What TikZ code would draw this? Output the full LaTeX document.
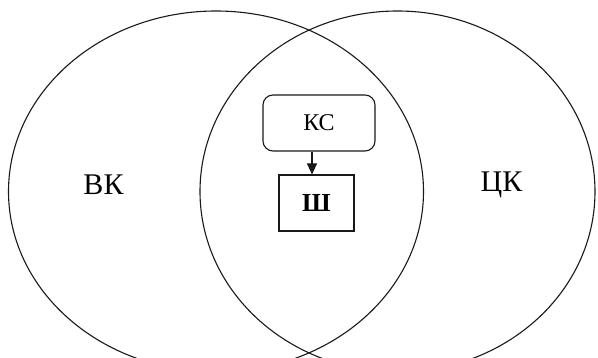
\documentclass[tikz,border=0pt]{standalone}
\usepackage{fontspec}
\setmainfont{Liberation Serif}
\usetikzlibrary{arrows.meta}
\begin{document}
\begin{tikzpicture}[x=1pt,y=-1pt,
  venn/.style={draw=black!90,line width=1.1pt},
  boxstyle/.style={draw=black!90,line width=1.1pt,minimum width=#1,minimum height=56pt,inner sep=0pt},
  link/.style={draw=black!90,line width=1.1pt,-{Triangle[length=11pt,width=10pt]}},
  biglabel/.style={font=\fontsize{30}{30}\selectfont}
]
\useasboundingbox (0,0) rectangle (598,358);
\clip (0,0) rectangle (598,358);
\draw[venn] (216,191.5) ellipse [x radius=207.5, y radius=180.5];
\draw[venn] (397.5,191.5) ellipse [x radius=197.5, y radius=180.5];
\node[biglabel] (vk) at (103.5,185) {ВК};
\node[biglabel] (ck) at (501.5,185) {ЦК};
\node[boxstyle=112pt,rounded corners=10pt,font=\fontsize{24}{24}\selectfont] (ks) at (319,123) {КС};
\node[boxstyle=75pt,font=\fontsize{26}{26}\selectfont\bfseries] (sh) at (316.5,203) {Ш};
\draw[link] (ks.south -| 312,0) -- (sh.north -| 312,0);
\end{tikzpicture}
\end{document}
